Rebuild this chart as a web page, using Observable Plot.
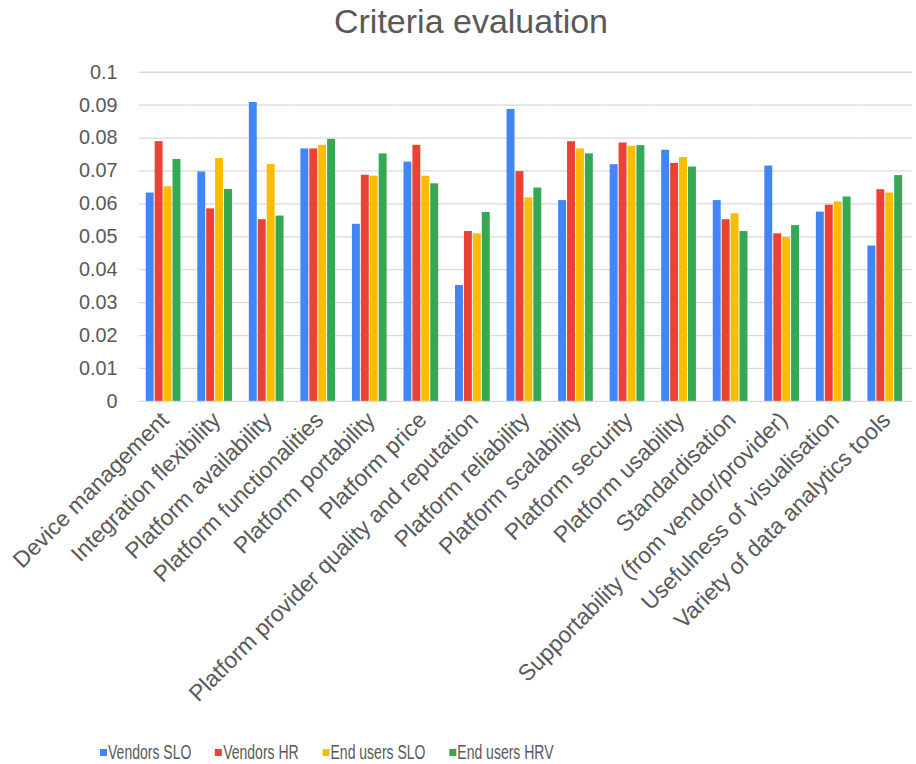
<!DOCTYPE html>
<html>
<head>
<meta charset="utf-8">
<script src="https://cdn.jsdelivr.net/npm/d3@7"></script>
<script src="https://cdn.jsdelivr.net/npm/@observablehq/plot@0.6"></script>
<style>
  html, body { margin: 0; padding: 0; background: #fff; overflow: hidden; }
  #title { height: 42px; line-height: 42px; font-family: "Liberation Sans", Arial, sans-serif; font-size: 34px; color: #595959; text-align: center; padding-left: 26px; width: 890px; }
  #chart { height: 698px; }
  #chart svg { display: block; }
  #chart svg g[aria-label^="fx-axis"] text { font-size: 23px; }
  #legend { margin-top: 0; height: 24px; line-height: 24px; display: flex; align-items: center; margin-left: 100px; transform: scaleX(0.70); transform-origin: left center; font-family: "Liberation Sans", Arial, sans-serif; font-size: 20px; color: #595959; white-space: nowrap; }
  #legend .item { display: flex; align-items: center; margin-right: 34px; }
  #legend .sw { width: 10px; height: 7px; margin-right: 1.5px; }
</style>
</head>
<body>
<div id="title">Criteria evaluation</div>
<div id="chart"></div>
<div id="legend"></div>
<script>
const categories = [
  "Device management",
  "Integration flexibility",
  "Platform availability",
  "Platform functionalities",
  "Platform portability",
  "Platform price",
  "Platform provider quality and reputation",
  "Platform reliability",
  "Platform scalability",
  "Platform security",
  "Platform usability",
  "Standardisation",
  "Supportability (from vendor/provider)",
  "Usefulness of visualisation",
  "Variety of data analytics tools"
];
const series = ["Vendors SLO", "Vendors HR", "End users SLO", "End users HRV"];
const colors = ["#4285F4", "#EA4335", "#FBBC04", "#34A853"];

const vendorsSLO  = [0.0633, 0.0697, 0.0908, 0.0767, 0.0538, 0.0727, 0.0352, 0.0887, 0.0610, 0.0719, 0.0763, 0.0610, 0.0715, 0.0575, 0.0472];
const vendorsHR   = [0.0789, 0.0585, 0.0552, 0.0767, 0.0687, 0.0778, 0.0516, 0.0698, 0.0789, 0.0785, 0.0723, 0.0552, 0.0509, 0.0596, 0.0643];
const endUsersSLO = [0.0652, 0.0738, 0.0720, 0.0778, 0.0684, 0.0684, 0.0509, 0.0618, 0.0767, 0.0775, 0.0741, 0.0570, 0.0498, 0.0606, 0.0633];
const endUsersHRV = [0.0735, 0.0644, 0.0563, 0.0796, 0.0752, 0.0661, 0.0574, 0.0648, 0.0752, 0.0777, 0.0712, 0.0516, 0.0534, 0.0621, 0.0686];

const yTicks = [0, 0.01, 0.02, 0.03, 0.04, 0.05, 0.06, 0.07, 0.08, 0.09, 0.1];

const seriesValues = [vendorsSLO, vendorsHR, endUsersSLO, endUsersHRV];
const data = categories.flatMap((c, i) =>
  series.map((s, j) => ({criterion: c, series: s, value: seriesValues[j][i]}))
);

const chart = Plot.plot({
  width: 924,
  height: 698,
  marginLeft: 136,
  marginRight: 0,
  marginTop: 30,
  marginBottom: 336,
  style: {
    fontFamily: "'Liberation Sans', Arial, sans-serif",
    fontSize: "20px",
    color: "#595959",
    background: "white",
    overflow: "visible"
  },
  facet: {data, x: "criterion"},
  fx: {
    domain: categories,
    padding: 0,
    label: null,
    axis: "bottom",
    tickRotate: -45,
    tickSize: 0,
    tickPadding: 15
  },
  x: {domain: series, axis: null, paddingInner: 0.15, paddingOuter: 0.9, align: 0.42},
  y: {
    domain: [0, 0.1],
    ticks: yTicks,
    tickFormat: d => String(d),
    tickSize: 0,
    tickPadding: 22,
    label: null
  },
  color: {domain: series, range: colors},
  marks: [
    Plot.ruleY(yTicks, {stroke: "#d9d9d9", strokeWidth: 1.3}),
    Plot.barY(data, {x: "series", y: "value", fill: "series"})
  ]
});
document.getElementById("chart").appendChild(chart);

const legend = document.getElementById("legend");
series.forEach((s, i) => {
  const item = document.createElement("div");
  item.className = "item";
  const sw = document.createElement("span");
  sw.className = "sw";
  sw.style.background = colors[i];
  const t = document.createElement("span");
  t.textContent = s;
  item.appendChild(sw);
  item.appendChild(t);
  legend.appendChild(item);
});
</script>
</body>
</html>
